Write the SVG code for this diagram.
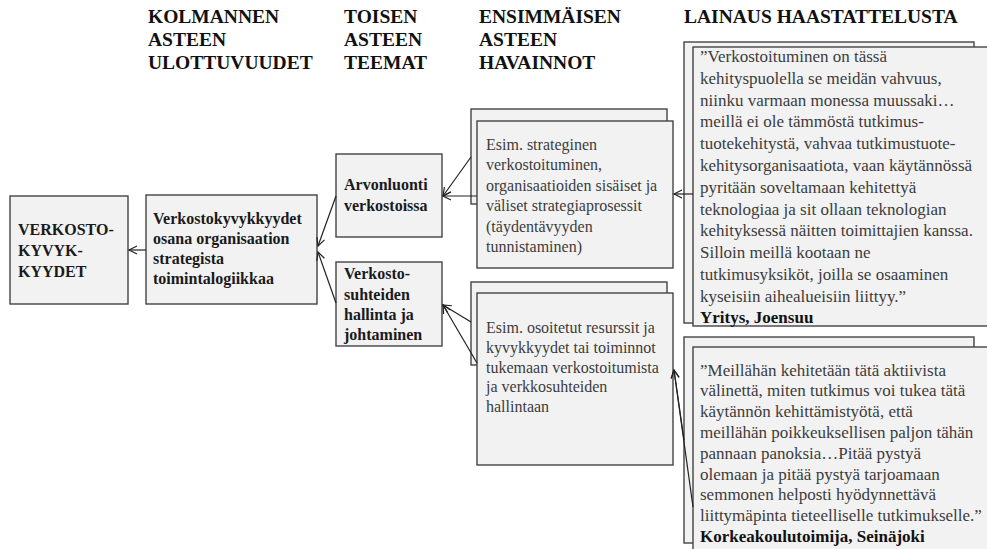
<svg xmlns="http://www.w3.org/2000/svg" width="987" height="549" viewBox="0 0 987 549">
  <defs>
    <marker id="arrow" markerUnits="userSpaceOnUse" markerWidth="12" markerHeight="12" refX="0" refY="0" viewBox="-10 -6 12 12" orient="auto">
      <path d="M-8,-4 L0,0 L-8,4" fill="none" stroke="#222" stroke-width="1.2"/>
    </marker>
    <style>
      .box { fill: #f2f2f2; stroke: #444; stroke-width: 1.4; }
      .hdr { font-weight: bold; font-size: 19.5px; fill: #111; }
      .bold { font-weight: bold; font-size: 16px; fill: #1a1a1a; }
      .note { font-size: 16px; fill: #3c3c3c; }
      .quote { font-size: 17px; fill: #3c3c3c; }
      .src { font-weight: bold; font-size: 17px; fill: #111; }
      .conn line { stroke: #222; stroke-width: 1.2; marker-end: url(#arrow); }
    </style>
  </defs>
  <rect width="987" height="549" fill="#fff"/>

  <g font-family="Liberation Serif, Times New Roman, DejaVu Serif, Noto Serif, serif">
  <!-- column headings -->
  <g id="headings">
    <text class="hdr" x="148" y="22.5">KOLMANNEN</text>
    <text class="hdr" x="148" y="45.5">ASTEEN</text>
    <text class="hdr" x="148" y="68.5">ULOTTUVUUDET</text>
    <text class="hdr" x="344" y="22.5">TOISEN</text>
    <text class="hdr" x="344" y="45.5">ASTEEN</text>
    <text class="hdr" x="344" y="68.5">TEEMAT</text>
    <text class="hdr" x="479" y="22.5">ENSIMMÄISEN</text>
    <text class="hdr" x="479" y="45.5">ASTEEN</text>
    <text class="hdr" x="479" y="68.5">HAVAINNOT</text>
    <text class="hdr" x="684" y="22.5">LAINAUS HAASTATTELUSTA</text>
  </g>

  <!-- third-order dimension -->
  <g id="verkostokyvykkyydet">
    <rect class="box" x="10" y="196" width="118" height="108"/>
    <text class="bold" x="18" y="235">VERKOSTO-</text>
    <text class="bold" x="18" y="256">KYVYK-</text>
    <text class="bold" x="18" y="277">KYYDET</text>
  </g>

  <g id="strategia">
    <rect class="box" x="146" y="195" width="171" height="109"/>
    <text class="bold" x="153" y="224">Verkostokyvykkyydet</text>
    <text class="bold" x="153" y="244">osana organisaation</text>
    <text class="bold" x="153" y="264">strategista</text>
    <text class="bold" x="153" y="284">toimintalogiikkaa</text>
  </g>

  <!-- second-order themes -->
  <g id="arvonluonti">
    <rect class="box" x="336" y="154" width="106" height="83"/>
    <text class="bold" x="344" y="190">Arvonluonti</text>
    <text class="bold" x="344" y="211">verkostoissa</text>
  </g>

  <g id="hallinta">
    <rect class="box" x="336" y="262" width="106" height="84"/>
    <text class="bold" x="344" y="279">Verkosto-</text>
    <text class="bold" x="344" y="299.5">suhteiden</text>
    <text class="bold" x="344" y="320">hallinta ja</text>
    <text class="bold" x="344" y="340">johtaminen</text>
  </g>

  <!-- first-order observations (stacked cards) -->
  <g id="havainto-1">
    <rect class="box" x="471" y="109" width="196" height="95"/>
    <rect class="box" x="477" y="121" width="196" height="147"/>
    <text class="note" x="486" y="149.5">Esim. strateginen</text>
    <text class="note" x="486" y="170">verkostoituminen,</text>
    <text class="note" x="486" y="190.5">organisaatioiden sisäiset ja</text>
    <text class="note" x="486" y="211">väliset strategiaprosessit</text>
    <text class="note" x="486" y="231.5">(täydentävyyden</text>
    <text class="note" x="486" y="252">tunnistaminen)</text>
  </g>

  <g id="havainto-2">
    <rect class="box" x="471" y="282" width="196" height="83"/>
    <rect class="box" x="477" y="293" width="196" height="172"/>
    <text class="note" x="486" y="333">Esim. osoitetut resurssit ja</text>
    <text class="note" x="486" y="353">kyvykkyydet tai toiminnot</text>
    <text class="note" x="486" y="372.5">tukemaan verkostoitumista</text>
    <text class="note" x="486" y="392">ja verkkosuhteiden</text>
    <text class="note" x="486" y="412">hallintaan</text>
  </g>

  <!-- interview quotes -->
  <g id="lainaus-1">
    <rect class="box" x="684" y="42" width="290" height="281"/>
    <rect class="box" x="693" y="47" width="300" height="279"/>
    <text class="quote" x="700" y="62">”Verkostoituminen on tässä</text>
    <text class="quote" x="700" y="83.8">kehityspuolella se meidän vahvuus,</text>
    <text class="quote" x="700" y="105.6">niinku varmaan monessa muussaki…</text>
    <text class="quote" x="700" y="127.4">meillä ei ole tämmöstä tutkimus-</text>
    <text class="quote" x="700" y="149.2">tuotekehitystä, vahvaa tutkimustuote-</text>
    <text class="quote" x="700" y="171">kehitysorganisaatiota, vaan käytännössä</text>
    <text class="quote" x="700" y="192.8">pyritään soveltamaan kehitettyä</text>
    <text class="quote" x="700" y="214.6">teknologiaa ja sit ollaan teknologian</text>
    <text class="quote" x="700" y="236.4">kehityksessä näitten toimittajien kanssa.</text>
    <text class="quote" x="700" y="258.2">Silloin meillä kootaan ne</text>
    <text class="quote" x="700" y="280">tutkimusyksiköt, joilla se osaaminen</text>
    <text class="quote" x="700" y="301.8">kyseisiin aihealueisiin liittyy.”</text>
    <text class="src" x="700" y="323.4">Yritys, Joensuu</text>
  </g>

  <g id="lainaus-2">
    <rect class="box" x="684" y="337" width="290" height="206"/>
    <rect class="box" x="693" y="347" width="300" height="215"/>
    <text class="quote" x="700" y="375.5">”Meillähän kehitetään tätä aktiivista</text>
    <text class="quote" x="700" y="396.3">välinettä, miten tutkimus voi tukea tätä</text>
    <text class="quote" x="700" y="417.1">käytännön kehittämistyötä, että</text>
    <text class="quote" x="700" y="437.9">meillähän poikkeuksellisen paljon tähän</text>
    <text class="quote" x="700" y="458.7">pannaan panoksia…Pitää pystyä</text>
    <text class="quote" x="700" y="479.5">olemaan ja pitää pystyä tarjoamaan</text>
    <text class="quote" x="700" y="500.3">semmonen helposti hyödynnettävä</text>
    <text class="quote" x="700" y="521.1">liittymäpinta tieteelliselle tutkimukselle.”</text>
    <text class="src" x="700" y="541.9">Korkeakoulutoimija, Seinäjoki</text>
  </g>
  </g>

  <!-- connectors -->
  <g id="connectors" class="conn">
    <line x1="146" y1="250" x2="129" y2="250"/>
    <line x1="336" y1="196" x2="318" y2="246"/>
    <line x1="336" y1="303" x2="318" y2="252"/>
    <line x1="471" y1="157" x2="443" y2="196"/>
    <line x1="477" y1="196" x2="443" y2="196"/>
    <line x1="471" y1="322" x2="443" y2="305"/>
    <line x1="477" y1="363" x2="443" y2="305"/>
    <line x1="693" y1="194" x2="674" y2="194"/>
    <line x1="684" y1="440" x2="674" y2="370"/>
    <line x1="693" y1="507" x2="674" y2="370"/>
  </g>
</svg>
